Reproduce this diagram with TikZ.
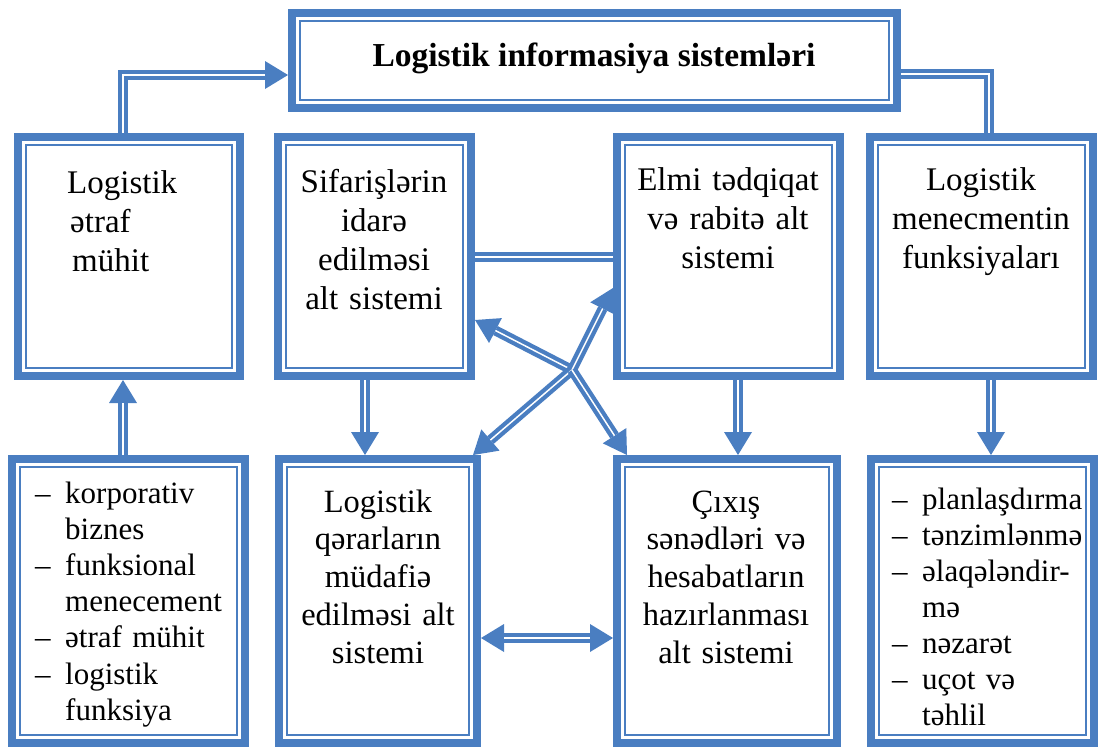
\documentclass[tikz,border=0pt]{standalone}
\usepackage{fontspec}
\setmainfont{Liberation Serif}
\usetikzlibrary{arrows.meta,calc}
\definecolor{lblue}{RGB}{74,126,193}
\newcommand\mybox[5]{%
  \node[boxshape, minimum width={(#4-#2-8)*1pt}, minimum height={(#5-#3-8)*1pt}] (#1) at ({(#2+#4)/2},{(#3+#5)/2}) {};
  \draw[inline] ([xshift=12pt,yshift=-12pt]#1.north west) rectangle ([xshift=-12pt,yshift=12pt]#1.south east);
}
% connector: #1 = arrow spec, #2 = white shortening options, #3 = path
\newcommand\myconn[3]{%
  \draw[bline,#1] #3;
  \draw[wline,#2] #3;
}
\begin{document}
\begin{tikzpicture}[x=1pt,y=-1pt,
  >={Triangle[length=23pt,width=28pt,line width=0pt]},
  boxshape/.style={draw=lblue, line width=8pt, fill=white, inner sep=0pt, outer sep=4pt, rectangle},
  inline/.style={draw=lblue, line width=2pt},
  bline/.style={draw=lblue, line width=10pt},
  wline/.style={draw=white, line width=1.5pt},
  tx/.style={inner sep=0pt, anchor=base, text width=205pt, align=center, font=\fontsize{33pt}{39pt}\selectfont},
  btx/.style={tx, font=\fontsize{32.5pt}{37.8pt}\selectfont},
  lst/.style={inner sep=0pt, anchor=base west, text width=220pt, align=left, font=\fontsize{31pt}{36.2pt}\selectfont}]
\useasboundingbox (0,0) rectangle (1100,748);
% boxes
\mybox{title}{288}{9}{901}{112}
\mybox{env}{14}{133}{244}{380}
\mybox{sif}{274}{133}{475}{380}
\mybox{elmi}{613}{133}{844}{380}
\mybox{fun}{866}{133}{1097}{380}
\mybox{list1}{8}{455}{249}{747}
\mybox{qer}{275}{455}{481}{747}
\mybox{cix}{613}{455}{841}{747}
\mybox{list2}{867}{455}{1098}{747}
% texts
\node[anchor=base, inner sep=0pt, font=\bfseries\fontsize{33.5pt}{40pt}\selectfont] (ttltext) at (594,66) {Logistik informasiya sistemləri};
\node[tx, anchor=base west, align=left, text width=170pt] (envtext) at (67,193) {Logistik\\\hspace*{3pt}ətraf\\\hspace*{5pt}mühit};
\node[tx] (siftext) at (374,192) {Sifarişlərin\\idarə\\edilməsi\\alt sistemi};
\node[tx] (elmitext) at (728,190) {Elmi tədqiqat\\və rabitə alt\\sistemi};
\node[tx] (funtext) at (981,190) {Logistik\\menecmentin\\funksiyaları};
\node[btx] (qertext) at (378,512) {Logistik\\qərarların\\müdafiə\\edilməsi alt\\sistemi};
\node[btx] (cixtext) at (726,512) {Çıxış\\sənədləri və\\hesabatların\\hazırlanması\\alt sistemi};
\node[lst] (list1text) at (35,503) {\makebox[30pt][l]{–}korporativ\\\hspace*{30pt}biznes\\\makebox[30pt][l]{–}funksional\\\hspace*{30pt}menecement\\\makebox[30pt][l]{–}ətraf mühit\\\makebox[30pt][l]{–}logistik\\\hspace*{30pt}funksiya};
\node[lst, font=\fontsize{31pt}{36pt}\selectfont] (list2text) at (892,509) {\makebox[30pt][l]{–}planlaşdırma\\\makebox[30pt][l]{–}tənzimlənmə\\\makebox[30pt][l]{–}əlaqələndir-\\\hspace*{30pt}mə\\\makebox[30pt][l]{–}nəzarət\\\makebox[30pt][l]{–}uçot və\\\hspace*{30pt}təhlil};
% connectors
\coordinate (X) at (572,370);
\myconn{->}{shorten >=23pt}{([xshift=-6pt]env.north) |- ([yshift=-14.5pt]title.west)}
\myconn{-}{}{([yshift=-13.5pt]title.east) -| ([xshift=7.5pt]fun.north)}
\myconn{->}{shorten >=23pt}{([xshift=-9.5pt]sif.south) -- ([xshift=-9.5pt]sif.south |- qer.north)}
\myconn{->}{shorten >=23pt}{([xshift=9.5pt]elmi.south) -- ([xshift=9.5pt]elmi.south |- cix.north)}
\myconn{->}{shorten >=23pt}{([xshift=9.5pt]fun.south) -- ([xshift=9.5pt]fun.south |- list2.north)}
\myconn{->}{shorten >=23pt}{([xshift=-5.5pt]list1.north) -- ([xshift=-5.5pt]list1.north |- env.south)}
\myconn{-}{}{([yshift=-0.5pt]sif.east) -- ([yshift=-0.5pt]sif.east -| elmi.west)}
\myconn{<->}{shorten >=23pt,shorten <=23pt}{([yshift=-37pt]qer.east) -- ([yshift=-37pt]qer.east -| cix.west)}
\myconn{->}{shorten >=23pt}{(X) -- ([yshift=-63.5pt]sif.east)}
\myconn{->}{shorten >=23pt}{(X) -- ([yshift=-31.5pt]elmi.west)}
\myconn{->}{shorten >=23pt}{(X) -- ([xshift=-8pt]qer.north east)}
\myconn{->}{shorten >=23pt}{(X) -- ([xshift=14pt]cix.north west)}
\end{tikzpicture}
\end{document}
